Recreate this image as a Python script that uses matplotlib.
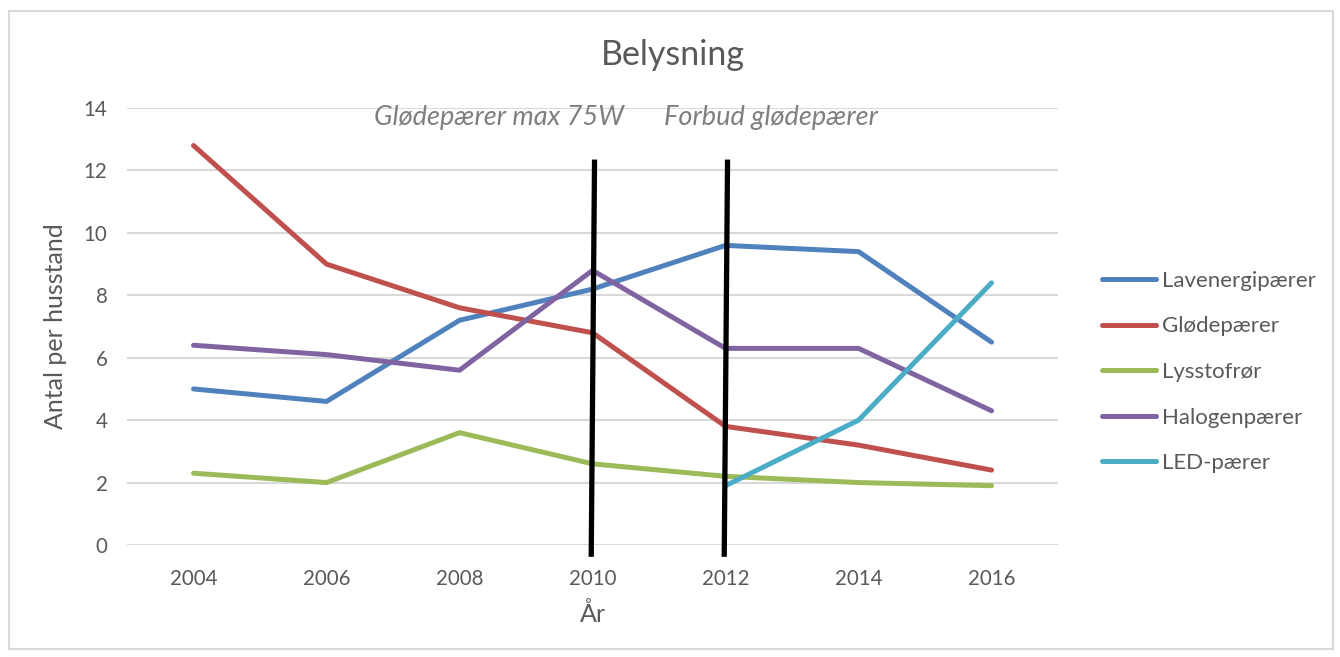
import matplotlib
matplotlib.use("Agg")
import matplotlib.pyplot as plt
from matplotlib.patches import Rectangle

years = ["2004", "2006", "2008", "2010", "2012", "2014", "2016"]
lavenergi = [5.0, 4.6, 7.2, 8.2, 9.6, 9.4, 6.5]
gloede = [12.8, 9.0, 7.6, 6.8, 3.8, 3.2, 2.4]
lysstof = [2.3, 2.0, 3.6, 2.6, 2.2, 2.0, 1.9]
halogen = [6.4, 6.1, 5.6, 8.8, 6.3, 6.3, 4.3]
led_years = ["2012", "2014", "2016"]
led = [1.9, 4.0, 8.4]

event_years = ["2010", "2012"]
event_labels = ["Glødepærer max 75W", "Forbud glødepærer"]

plt.rcParams['font.family'] = ['Lato', 'DejaVu Sans']

fig = plt.figure(figsize=(13.4, 6.57), dpi=100)
fig.add_artist(Rectangle((0.007, 0.012), 0.988, 0.972, transform=fig.transFigure,
                         fill=False, edgecolor='#D9D9D9', linewidth=1.5))
ax = fig.add_axes([0.0948, 0.1705, 0.6948, 0.665])

x = list(range(len(years)))
lx = [years.index(y) for y in led_years]
series = [
    ("Lavenergipærer", x, lavenergi, '#4F81BD'),
    ("Glødepærer", x, gloede, '#C0504D'),
    ("Lysstofrør", x, lysstof, '#9BBB59'),
    ("Halogenpærer", x, halogen, '#8064A2'),
    ("LED-pærer", lx, led, '#4BACC6'),
]
for name, xs, ys, c in series:
    ax.plot(xs, ys, color=c, linewidth=3.6, label=name, solid_capstyle='round',
            solid_joinstyle='round', zorder=3)

for ey in event_years:
    xi = years.index(ey)
    ax.plot([xi + 0.015, xi - 0.01], [12.35, -0.38], color='black', linewidth=3.8,
            clip_on=False, zorder=5, solid_capstyle='butt')

ax.text(2.30, 13.7, event_labels[0], style='italic', color='#7F7F7F', fontsize=19.5,
        ha='center', va='center')
ax.text(4.34, 13.7, event_labels[1], style='italic', color='#7F7F7F', fontsize=19.5,
        ha='center', va='center')

ax.set_xlim(-0.5, 6.5)
ax.set_ylim(0, 14)
ax.set_xticks(x)
ax.set_xticklabels(years)
ax.set_yticks(range(0, 15, 2))
ax.grid(axis='y', color='#D9D9D9', linewidth=1.5)
ax.set_axisbelow(True)
for s in ax.spines.values():
    s.set_visible(False)
ax.tick_params(length=0, labelsize=14.8, labelcolor='#595959')
ax.tick_params(axis='x', pad=17)
ax.tick_params(axis='y', pad=14)

ax.set_xlabel("År", fontsize=18, color='#595959', labelpad=10)
ax.set_ylabel("Antal per husstand", fontsize=18, color='#595959', labelpad=12)
fig.text(0.502, 0.917, "Belysning", fontsize=24.5, color='#595959', ha='center', va='center')

leg = ax.legend(loc='center left', bbox_to_anchor=(1.026, 0.396), frameon=False,
                fontsize=16, labelcolor='#595959', handlelength=2.4, handletextpad=0.3,
                labelspacing=1.15)

fig.savefig("out.png", dpi=100)
